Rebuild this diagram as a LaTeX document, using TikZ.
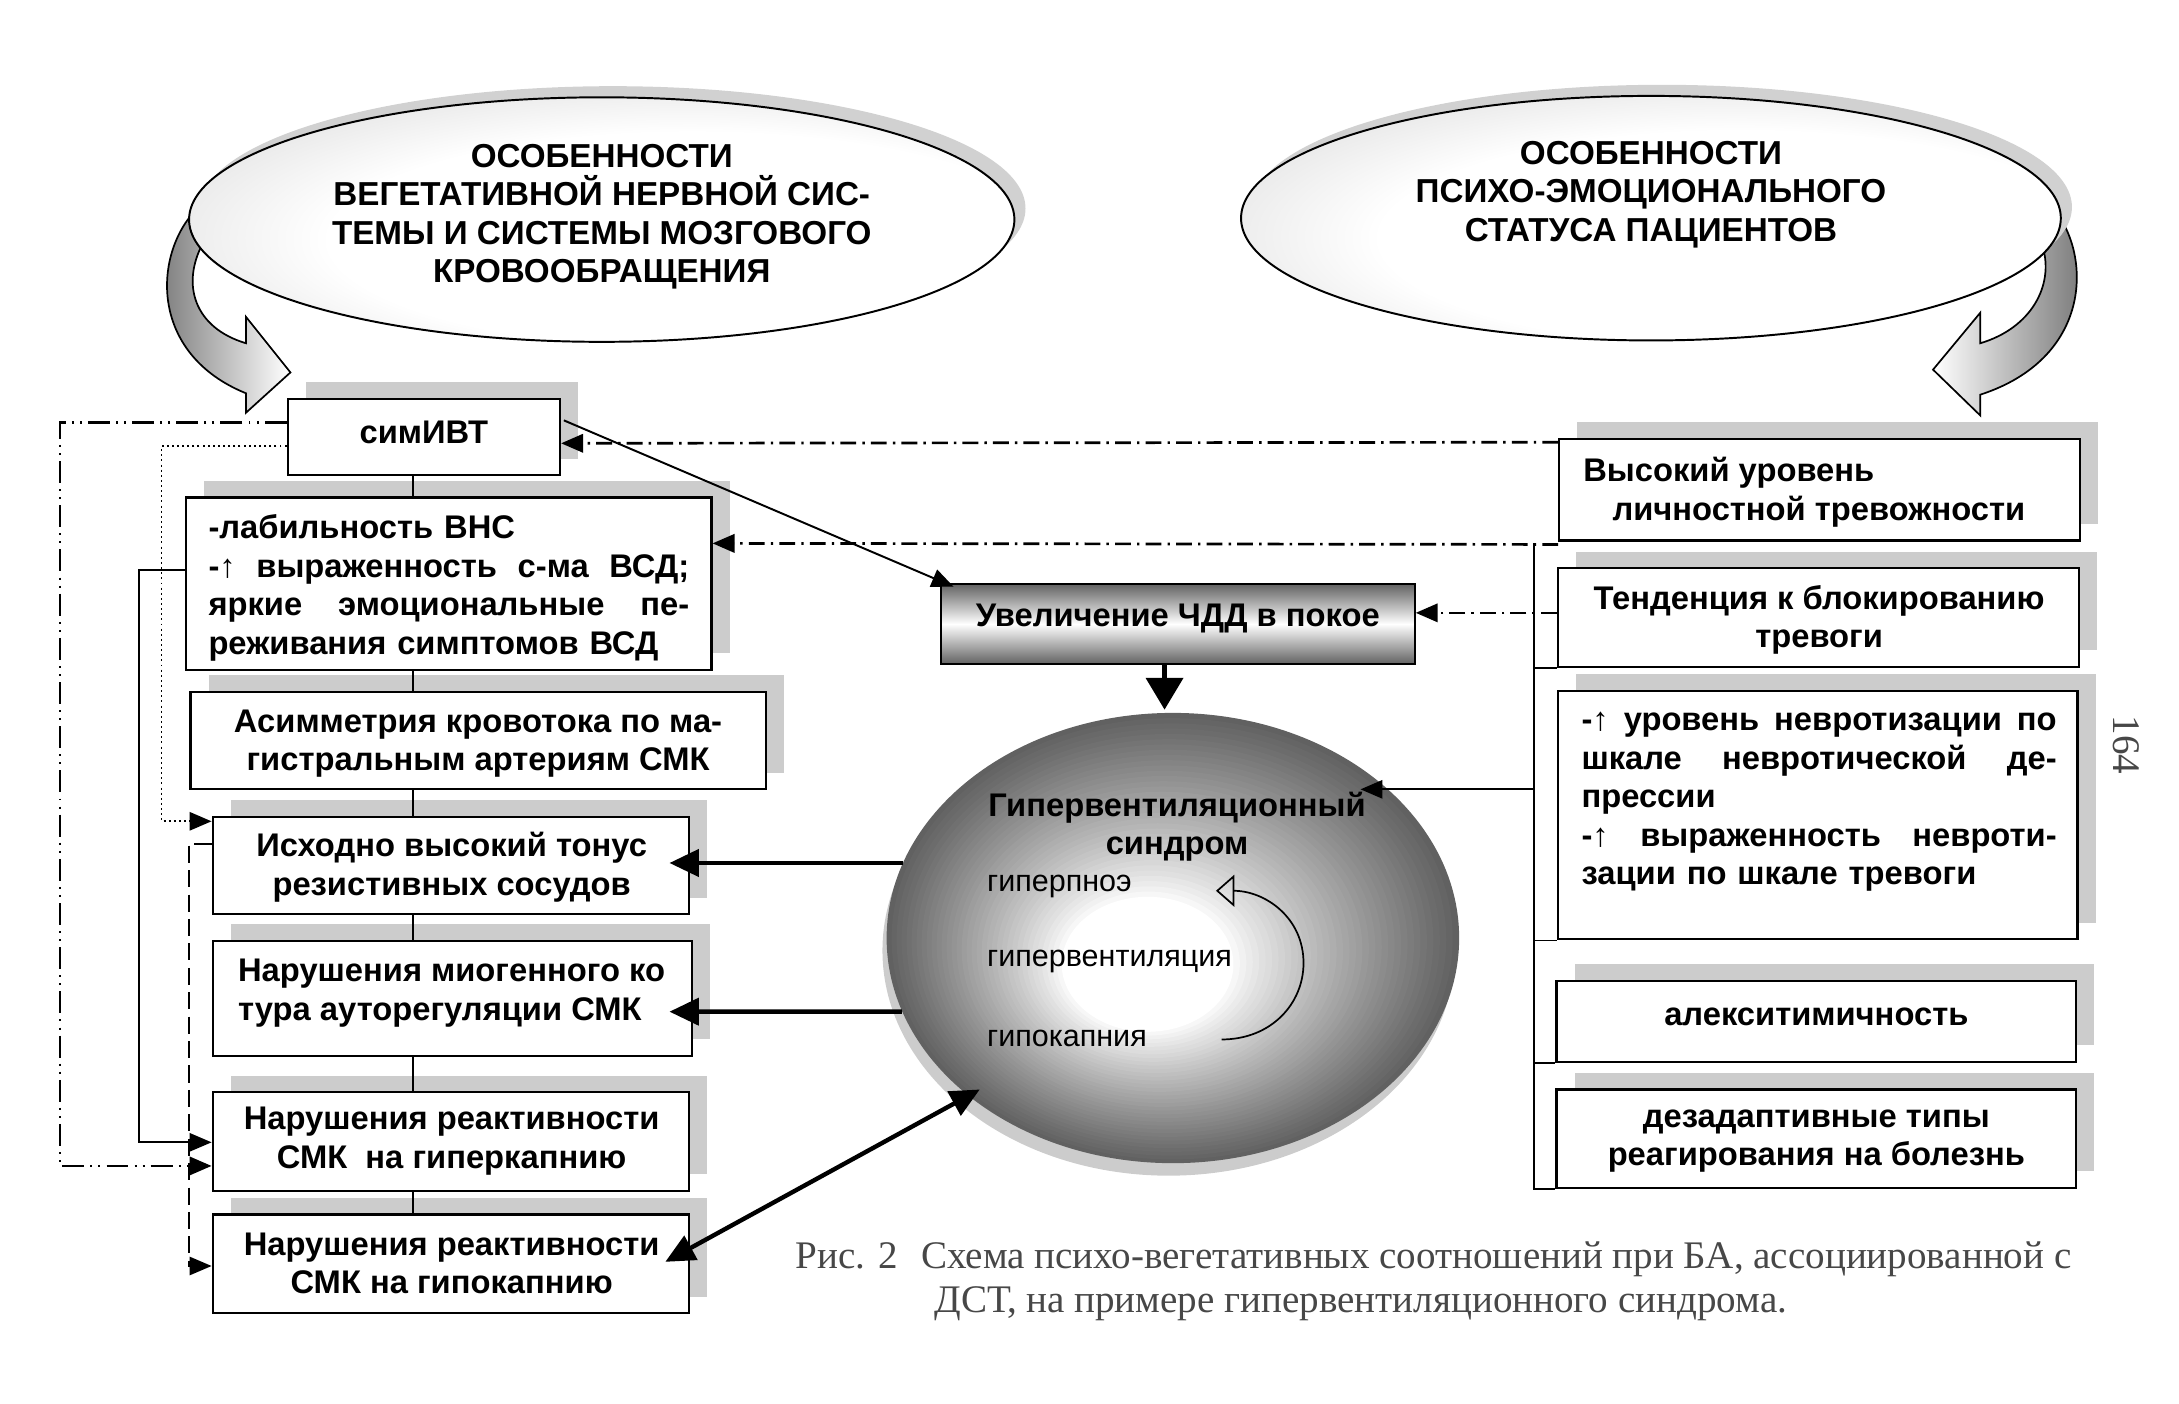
\documentclass[tikz,border=0pt]{standalone}
\usepackage{fontspec}
\setmainfont{Liberation Sans}
\newfontfamily\serifcap{Liberation Serif}
\usetikzlibrary{shapes.geometric,arrows.meta,shadows,calc}
\pgfdeclareradialshading{topball}{\pgfpoint{8bp}{-6bp}}{color(0bp)=(white); color(22bp)=(white); color(42bp)=(black!18); color(55bp)=(black!40); color(70bp)=(black!45)}
\newcommand\bxf{\fontsize{13.4}{15.8}\selectfont\bfseries}
\newcommand\hdf{\fontsize{13.6}{15.7}\selectfont\bfseries}
\newcommand\upar{{\mdseries ↑}}
\newcommand\jline[2]{\makebox[#1][s]{\spaceskip=0pt\xspaceskip=0pt\relax #2}}
\begin{document}
\begin{tikzpicture}[x=0.02cm,y=-0.02cm,
  box/.style={draw=black, line width=0.9pt, fill=white, rectangle, inner sep=0pt,
    drop shadow={shadow xshift=0.26cm, shadow yshift=0.24cm, fill=black!20, opacity=1}},
  topell/.style={ellipse, draw=black, line width=0.8pt, shading=topball, inner sep=0pt,
    drop shadow={shadow xshift=0.16cm, shadow yshift=0.16cm, fill=black!18, opacity=1}},
  txt/.style={font=\bxf, inner sep=0pt, align=center},
  hd/.style={font=\hdf, inner sep=0pt, align=center},
  rg/.style={font=\fontsize{12.5}{15}\selectfont, inner sep=0pt, anchor=west},
  captxt/.style={font=\serifcap\fontsize{16}{19}\selectfont, text=black!72, inner sep=0pt},
  conn/.style={line width=0.8pt},
  arr/.style={-{Triangle[length=9pt,width=7.5pt]}},
  ddot/.style={line width=1pt, dash pattern=on 9pt off 2.5pt on 0.8pt off 2.5pt on 0.8pt off 2.5pt},
  ddash/.style={line width=1.1pt, dash pattern=on 6.5pt off 2.5pt on 1pt off 2.5pt},
  ldash/.style={line width=0.8pt, dash pattern=on 7pt off 3pt},
  fdot/.style={line width=0.8pt, dash pattern=on 0.8pt off 1.3pt},
  thk/.style={line width=1.8pt, -{Triangle[length=12pt,width=11pt]}},
  thkd/.style={line width=1.8pt, {Triangle[length=12pt,width=11pt]}-{Triangle[length=12pt,width=11pt]}},
  dwn/.style={line width=2pt, -{Triangle[length=13pt,width=15pt]}},
  ribbon/.style={draw=black, line width=0.7pt, left color=black!55, right color=white},
  ribbonR/.style={draw=black, line width=0.7pt, right color=black!55, left color=white}
]
\useasboundingbox (0,0) rectangle (1568,1010);

% curved 3D arrows
\draw[ribbon] (140,152) .. controls (110,185) and (108,255) .. (177,283) -- (177,297) -- (209,268) -- (177,228) -- (177,247) .. controls (140,236) and (130,205) .. (146,175) -- cycle;
\draw[ribbonR] (1479,152) .. controls (1505,185) and (1505,258) .. (1425,284) -- (1425,299) -- (1391,266) -- (1425,225) -- (1425,247) .. controls (1462,236) and (1478,205) .. (1470,178) -- cycle;

% top ellipses
\node[topell, minimum width=11.88cm, minimum height=3.52cm] (elL) at (433,158) {};
\node[topell, minimum width=11.80cm, minimum height=3.52cm] (elR) at (1188,157) {};
\node[hd] (hL) at (433,156) {ОСОБЕННОСТИ\\ВЕГЕТАТИВНОЙ НЕРВНОЙ СИС-\\ТЕМЫ И СИСТЕМЫ МОЗГОВОГО\\КРОВООБРАЩЕНИЯ};
\node[hd] (hR) at (1188,140) {ОСОБЕННОСТИ\\ПСИХО-ЭМОЦИОНАЛЬНОГО\\СТАТУСА ПАЦИЕНТОВ};

% left column boxes
\node[box, minimum width=3.92cm, minimum height=1.10cm] (sim) at (305,314.5) {};
\node[box, minimum width=7.56cm, minimum height=2.48cm] (b2) at (323,420) {};
\node[box, minimum width=8.28cm, minimum height=1.40cm] (b3) at (344,533) {};
\node[box, minimum width=6.86cm, minimum height=1.40cm] (b4) at (324.5,623) {};
\node[box, minimum width=6.90cm, minimum height=1.66cm] (b5) at (325.5,718.5) {};
\node[box, minimum width=6.86cm, minimum height=1.42cm] (b6) at (324.5,821.5) {};
\node[box, minimum width=6.86cm, minimum height=1.42cm] (b7) at (324.5,909.5) {};

% right column boxes
\node[box, minimum width=7.50cm, minimum height=1.46cm] (r1) at (1309.5,352.5) {};
\node[box, minimum width=7.50cm, minimum height=1.42cm] (r2) at (1308.5,444.5) {};
\node[box, minimum width=7.48cm, minimum height=3.58cm] (r3) at (1308,586.5) {};
\node[box, minimum width=7.48cm, minimum height=1.16cm] (r4) at (1307,735) {};
\node[box, minimum width=7.48cm, minimum height=1.42cm] (r5) at (1307,819.5) {};

% centre box
\node[draw=black, line width=0.9pt, rectangle, inner sep=0pt, minimum width=6.82cm, minimum height=1.16cm,
  top color=black!62, bottom color=black!62, middle color=white] (chdd) at (847.5,449) {};

% big shaded ellipse (layered gradient)
\node[ellipse, inner sep=0pt, minimum width=8.24cm, minimum height=6.48cm] (big) at (844,675) {};
\fill[black!20] ($(big.center)+(-3,9)$) ellipse [x radius=206, y radius=162];
\foreach \i in {0,...,35}{
  \pgfmathsetmacro\sv{1-\i*0.02}
  \pgfmathsetmacro\gv{62*(max((\sv-0.3)/0.7,0.0001))^0.85}
  \pgfmathsetmacro\cxv{844-(1-\sv)*26}
  \pgfmathsetmacro\cyv{675+(1-\sv)*27}
  \fill[black!\gv] (\cxv,\cyv) ellipse [x radius={206*\sv}, y radius={162*\sv}];
}

% vertical link of left column
\coordinate (vl) at (297,0);
\draw[conn] (sim.south -| vl) -- (b2.north -| vl);
\draw[conn] (b2.south -| vl) -- (b3.north -| vl);
\draw[conn] (b3.south -| vl) -- (b4.north -| vl);
\draw[conn] (b4.south -| vl) -- (b5.north -| vl);
\draw[conn] (b5.south -| vl) -- (b6.north -| vl);
\draw[conn] (b6.south -| vl) -- (b7.north -| vl);

% left feedback lines
\draw[ddot, arr] ($(sim.west)+(0,-10.5)$) -- ++(-163,0) |- ($(b6.west)+(0,17.5)$);
\draw[fdot, arr] ($(sim.west)+(0,6.5)$) -- ++(-90,0) |- ($(b4.west)+(0,-32)$);
\draw[conn, arr] ($(b2.west)+(0,-10)$) -- ++(-33,0) |- ($(b6.west)+(0,0.5)$);
\draw[ldash, arr] ($(b4.west)+(0,-16)$) -- ++(-16,0) |- ($(b7.west)+(0,1.5)$);

% right side lines
\draw[ddash, arr] ($(r1.north west)+(0,3)$) -- ($(sim.east)+(0,4.5)$);
\draw[ddash, arr] ($(r1.south west)+(0,2)$) -- ($(b2.east)+(0,-29)$);
\draw[ddash, arr] ($(r2.west)+(0,-3.5)$) -- ($(chdd.east)+(0,-8)$);
\coordinate (brk) at (1104,391);
\coordinate (bk) at (1104,568);
\draw[conn] (brk) -- (brk |- r5.south west) -- (r5.south west);
\draw[conn] (brk |- r2.south west) -- (r2.south west);
\draw[conn] (brk |- r3.south west) -- (r3.south west);
\draw[conn] (brk |- r4.south west) -- (r4.south west);
\draw[conn, arr] (bk) -- ($(big.center)+(135,-107)$);

% centre arrows
\draw[conn, arr] ($(sim.east)+(2,-12)$) -- ($(chdd.north west)+(10,3)$);
\draw[dwn] ($(chdd.south)+(-9.5,0)$) -- ($(big.north)+(-6,-2)$);
\draw[thk] ($(big.center)+(-194,-54)$) -- ($(b4.east)+(-15,-2)$);
\draw[thk] ($(big.center)+(-195,53)$) -- ($(b5.east)+(-17,9.5)$);
\draw[thkd] ($(b7.east)+(-18,-1.5)$) -- ($(big.center)+(-139,109)$);

% texts
\node[txt] (tsim) at (305,311) {симИВТ};
\node[txt, text width=6.92cm, align=left] (t2) at (323,423) {-лабильность ВНС\\
  \jline{6.92cm}{-\upar\ выраженность с-ма ВСД;}\\
  \jline{6.92cm}{яркие эмоциональные пе-}\\
  реживания симптомов ВСД};
\node[txt] (t3) at (344,535) {Асимметрия кровотока по ма-\\гистральным артериям СМК};
\node[txt] (t4) at (325,624) {Исходно высокий тонус\\резистивных сосудов};
\node[txt, align=left, anchor=west] (t5) at (171,714.5) {Нарушения миогенного ко\\тура ауторегуляции СМК};
\node[txt] (t6) at (325,821) {Нарушения реактивности\\СМК\ \ на гиперкапнию};
\node[txt] (t7) at (325,909) {Нарушения реактивности\\СМК на гипокапнию};

\node[txt, align=left, anchor=west] (tr1) at (1139,354) {Высокий уровень\\\hspace*{0.42cm}личностной тревожности};
\node[txt] (tr2) at (1309,446) {Тенденция к блокированию\\тревоги};
\node[txt, text width=6.84cm, align=left] (tr3) at (1309,577) {\jline{6.84cm}{-\upar\ уровень невротизации по}\\
  \jline{6.84cm}{шкале невротической де-}\\
  прессии\\
  \jline{6.84cm}{-\upar\ выраженность невроти-}\\
  зации по шкале тревоги};
\node[txt] (tr4) at (1307,732) {алекситимичность};
\node[txt] (tr5) at (1307,821) {дезадаптивные типы\\реагирования на болезнь};

\node[txt] (tchdd) at (847.5,445) {Увеличение ЧДД в покое};
\node[txt] (tbig) at (847,595) {Гипервентиляционный\\синдром};
\node[rg] (g1) at (710,638) {гиперпноэ};
\node[rg] (g2) at (710,692) {гипервентиляция};
\node[rg] (g3) at (710,747) {гипокапния};
\draw[line width=0.7pt, -{Triangle[open,length=7.5pt,width=13pt]}] (879,748) .. controls (915,748) and (938,722) .. (938,693) .. controls (938,660) and (910,641) .. (875,641);

% caption and page number
\node[captxt, anchor=west] (cap1) at (572,906) {Рис. 2\hspace{0.6em}Схема психо-вегетативных соотношений при БА, ассоциированной с};
\node[captxt, anchor=west] (cap2) at (672,938) {ДСТ, на примере гипервентиляционного синдрома.};
\node[captxt, rotate=-90] (pg) at (1530,536) {164};
\end{tikzpicture}
\end{document}
